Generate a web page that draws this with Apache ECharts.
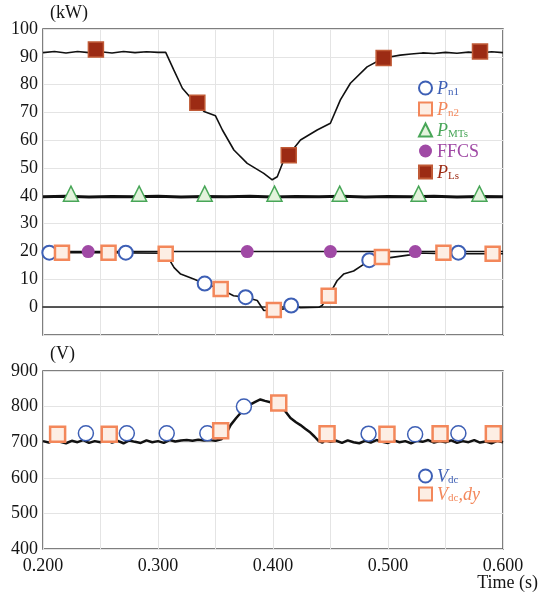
<!DOCTYPE html>
<html>
<head>
<meta charset="utf-8">
<script src="https://cdn.jsdelivr.net/npm/echarts@6/dist/echarts.min.js"></script>
<style>
  html, body { margin: 0; padding: 0; background: #fff; }
  #main { width: 544px; height: 597px; }
</style>
</head>
<body>
<div id="main"></div>
<script>
// ---- top panel (kW) ----
var tLs = [0.200, 0.210, 0.220, 0.230, 0.240, 0.250, 0.260, 0.270, 0.280, 0.290, 0.300, 0.3067,
  0.3137, 0.3212, 0.328, 0.3342, 0.340, 0.350, 0.356, 0.366, 0.3776, 0.392, 0.3993, 0.4037,
  0.4094, 0.4137, 0.4239, 0.4384, 0.4499, 0.4586, 0.4673, 0.4818, 0.4962, 0.5107, 0.520,
  0.530, 0.540, 0.550, 0.560, 0.570, 0.580, 0.590, 0.600];
var vLs = [91.5, 91.9, 91.4, 91.9, 91.5, 91.8, 91.4, 91.9, 91.5, 91.8, 91.6, 91.6,
  85.3, 78.7, 75.5, 73.4, 70.3, 68.8, 63.7, 56.5, 51.7, 48.1, 45.8, 46.9,
  52.9, 54.8, 60.1, 63.7, 66.1, 74.5, 80.5, 86.4, 89.6, 90.6, 91.0,
  91.4, 91.2, 91.6, 91.3, 91.7, 91.4, 91.8, 91.5];

var tMTs = [0.200, 0.220, 0.240, 0.260, 0.280, 0.300, 0.320, 0.340, 0.360, 0.380, 0.400,
  0.420, 0.440, 0.460, 0.480, 0.500, 0.520, 0.540, 0.560, 0.580, 0.600];
var vMTs = [39.7, 39.9, 39.6, 39.8, 39.7, 39.9, 39.6, 39.8, 39.7, 39.9, 39.6,
  39.8, 39.7, 39.9, 39.6, 39.8, 39.7, 39.9, 39.6, 39.8, 39.7];

var tFFCS = [0.200, 0.600];
var vFFCS = [20, 20];

var tPn = [0.200, 0.250, 0.3067, 0.310, 0.314, 0.3197, 0.331, 0.3406, 0.3545, 0.3657, 0.3762,
  0.3863, 0.392, 0.4007, 0.4094, 0.4158, 0.424, 0.440, 0.4427, 0.4484, 0.4557, 0.4614,
  0.4701, 0.4788, 0.4837, 0.4947, 0.502, 0.519, 0.525, 0.550, 0.600];
var vPn = [19.6, 19.6, 19.4, 17.0, 14.2, 11.9, 10.1, 8.5, 6.5, 4.1, 3.6,
  2.4, -1.2, -1.0, -0.6, 0.6, -0.2, 0.0, 0.6, 4.1, 9.5, 11.9,
  13.0, 15.4, 16.9, 18.0, 17.8, 18.8, 19.5, 19.2, 19.2];

// markers
var mkPn1T = [0.2055, 0.272, 0.3406, 0.3762, 0.4158, 0.4837, 0.5612];
var mkPn1V = [19.6, 19.6, 8.5, 3.6, 0.6, 16.9, 19.6];
var mkPn2T = [0.2165, 0.257, 0.3067, 0.3545, 0.4007, 0.4484, 0.4947, 0.5482, 0.591];
var mkPn2V = [19.6, 19.6, 19.2, 6.5, -1.0, 4.1, 18.0, 19.6, 19.2];
var mkMTsT = [0.2243, 0.2836, 0.3406, 0.4013, 0.4580, 0.5266, 0.5795];
var mkMTsV = [40.8, 40.8, 40.8, 40.8, 40.8, 40.8, 40.8];
var mkFFT = [0.2393, 0.3776, 0.4499, 0.5237];
var mkFFV = [20, 20, 20, 20];
var mkLsT = [0.246, 0.3342, 0.4137, 0.4962, 0.580];
var mkLsV = [92.6, 73.5, 54.6, 89.6, 91.9];

// ---- bottom panel (V) ----
var tV = [0.200, 0.205, 0.210, 0.215, 0.220, 0.225, 0.230, 0.235, 0.240, 0.245, 0.250, 0.255,
  0.260, 0.265, 0.270, 0.275, 0.280, 0.285, 0.290, 0.295, 0.300, 0.305, 0.310, 0.315, 0.320,
  0.325, 0.330, 0.335, 0.340, 0.345, 0.350, 0.355, 0.359, 0.3631, 0.368, 0.3718, 0.376, 0.3805,
  0.385, 0.389, 0.393, 0.3978, 0.402, 0.4065, 0.410, 0.4152, 0.420, 0.4239, 0.428, 0.4325,
  0.436, 0.4398, 0.443, 0.445, 0.450, 0.455, 0.460, 0.465, 0.470, 0.475, 0.480, 0.485, 0.490,
  0.495, 0.500, 0.505, 0.510, 0.515, 0.520, 0.525, 0.530, 0.535, 0.540, 0.545, 0.550, 0.555,
  0.560, 0.565, 0.570, 0.575, 0.580, 0.585, 0.590, 0.595, 0.600];
var vV = [703, 699, 706, 701, 697, 704, 700, 706, 698, 703, 700, 707,
  699, 704, 697, 705, 701, 698, 705, 700, 703, 698, 706, 702, 705,
  706, 704, 707, 705, 706, 704, 708, 722, 748, 768, 782, 796, 806,
  814, 820, 816, 812, 806, 798, 790, 768, 756, 748, 738, 727,
  716, 703, 699, 706, 701, 704, 698, 705, 700, 697, 704, 699, 706,
  701, 698, 705, 700, 703, 697, 704, 701, 706, 699, 703, 700, 705,
  698, 703, 700, 706, 699, 702, 697, 704, 700];

var mkVdcT = [0.2373, 0.2729, 0.3076, 0.3429, 0.3747, 0.4831, 0.5236, 0.5612];
var mkVdcV = [725, 725, 725, 725, 800, 724, 722, 725];
var mkVdyT = [0.2127, 0.2576, 0.3545, 0.405, 0.447, 0.4991, 0.5453, 0.5916];
var mkVdyV = [722, 722, 732, 810, 724, 722, 724, 724];

var topTicks = [-10, 100, 10];
var botTicks = [400, 900, 100];

function pairs(a, b) {
    var out = [];
    for (var i = 0; i < a.length; i++) out.push([a[i], b[i]]);
    return out;
}

var SERIF = 'Liberation Serif';
var cBlue = '#3d5fb5', cOrange = '#f3875a', cGreen = '#48a658', cPurple = '#a04aa5', cBrown = '#9c2b14';

var richBase = {
    m: { fontFamily: SERIF, fontSize: 18, fontStyle: 'italic', lineHeight: 20, verticalAlign: 'bottom' },
    n: { fontFamily: SERIF, fontSize: 18, lineHeight: 20, verticalAlign: 'bottom' },
    s: { fontFamily: SERIF, fontSize: 11, lineHeight: 14, verticalAlign: 'bottom' }
};
var legendLabels = {
    'P_n1': '{m|P}{s|n1}',
    'P_n2': '{m|P}{s|n2}',
    'P_MTs': '{m|P}{s|MTs}',
    'FFCS': '{n|FFCS}',
    'P_Ls': '{m|P}{s|Ls}',
    'V_dc': '{m|V}{s|dc}',
    'V_dcdy': '{m|V}{s|dc}{m|,dy}'
};
function legItem(name, color) {
    return { name: name, textStyle: { color: color, rich: richBase } };
}

var axisLbl = { fontFamily: SERIF, fontSize: 18, color: '#151515', margin: 5 };
var split = { show: true, lineStyle: { color: '#e4e4e4', width: 1 } };

function lineS(name, t, v, w, xi) {
    return { name: name, type: 'line', xAxisIndex: xi, yAxisIndex: xi, data: pairs(t, v),
        showSymbol: false, symbol: 'none', lineStyle: { color: '#111', width: w }, z: 2, silent: true };
}
function markS(name, t, v, xi, symbol, size, fill, border, bw) {
    return { name: name, type: 'scatter', xAxisIndex: xi, yAxisIndex: xi, data: pairs(t, v),
        symbol: symbol, symbolSize: size,
        itemStyle: { color: fill, borderColor: border, borderWidth: bw, opacity: 1 }, z: 5 };
}

var app = echarts.init(document.getElementById('main'));
var option = {
    backgroundColor: '#fff',
    animation: false,
    grid: [
        { left: 43, top: 29, width: 460, height: 306, show: true, borderColor: '#555', borderWidth: 1.5, backgroundColor: 'transparent' },
        { left: 43, top: 371, width: 460, height: 178, show: true, borderColor: '#555', borderWidth: 1.5, backgroundColor: 'transparent' }
    ],
    xAxis: [
        { type: 'value', gridIndex: 0, min: 0.2, max: 0.6, interval: 0.05,
          axisLine: { show: true, onZero: true, lineStyle: { color: '#222', width: 1.5 } },
          axisTick: { show: false }, axisLabel: { show: false }, splitLine: split },
        { type: 'value', gridIndex: 1, min: 0.2, max: 0.6, interval: 0.05,
          axisLine: { show: false }, axisTick: { show: false }, splitLine: split,
          axisLabel: Object.assign({}, axisLbl, { margin: 8, formatter: function (v) {
              return Math.round(v * 1000) % 100 === 0 ? v.toFixed(3) : '';
          } }) }
    ],
    yAxis: [
        { type: 'value', gridIndex: 0, min: topTicks[0], max: topTicks[1], interval: topTicks[2],
          axisLine: { show: false }, axisTick: { show: false }, splitLine: split,
          axisLabel: Object.assign({}, axisLbl, { formatter: function (v) { return v < 0 ? '' : v; } }) },
        { type: 'value', gridIndex: 1, min: botTicks[0], max: botTicks[1], interval: botTicks[2],
          axisLine: { show: false }, axisTick: { show: false }, splitLine: split,
          axisLabel: axisLbl }
    ],
    legend: [
        { orient: 'vertical', left: 413, top: 75, itemGap: 3, itemWidth: 13, itemHeight: 13,
          selectedMode: false,
          data: [legItem('P_n1', cBlue), legItem('P_n2', cOrange), legItem('P_MTs', cGreen),
                 legItem('FFCS', cPurple), legItem('P_Ls', cBrown)],
          formatter: function (n) { return legendLabels[n]; },
          textStyle: { rich: richBase } },
        { orient: 'vertical', left: 413, top: 463, itemGap: 0, itemWidth: 13, itemHeight: 13,
          selectedMode: false,
          data: [legItem('V_dc', cBlue), legItem('V_dcdy', cOrange)],
          formatter: function (n) { return legendLabels[n]; },
          textStyle: { rich: richBase } }
    ],
    graphic: [
        { type: 'text', left: 50, top: 4, style: { text: '(kW)', font: '18px "Liberation Serif"', fill: '#151515' } },
        { type: 'text', left: 50, top: 345, style: { text: '(V)', font: '18px "Liberation Serif"', fill: '#151515' } },
        { type: 'text', right: 6, top: 574, style: { text: 'Time (s)', font: '18px "Liberation Serif"', fill: '#151515' } }
    ],
    series: [
        lineS('lineLs', tLs, vLs, 1.6, 0),
        lineS('lineMTs', tMTs, vMTs, 3, 0),
        lineS('lineFFCS', tFFCS, vFFCS, 1.6, 0),
        lineS('linePn', tPn, vPn, 1.6, 0),
        markS('P_n1', mkPn1T, mkPn1V, 0, 'circle', 14, '#fff', cBlue, 2),
        markS('P_n2', mkPn2T, mkPn2V, 0, 'rect', 14, '#fdeee4', cOrange, 2.5),
        markS('P_MTs', mkMTsT, mkMTsV, 0, 'triangle', 15, '#e3f3dc', cGreen, 1.5),
        markS('FFCS', mkFFT, mkFFV, 0, 'circle', 13, cPurple, cPurple, 0),
        markS('P_Ls', mkLsT, mkLsV, 0, 'rect', 15, cBrown, '#c05a36', 1.5),
        lineS('lineV', tV, vV, 2.5, 1),
        markS('V_dc', mkVdcT, mkVdcV, 1, 'circle', 15, '#fff', cBlue, 1.5),
        markS('V_dcdy', mkVdyT, mkVdyV, 1, 'rect', 15, '#fdeee4', cOrange, 2.5)
    ]
};
app.setOption(option);
</script>
</body>
</html>
